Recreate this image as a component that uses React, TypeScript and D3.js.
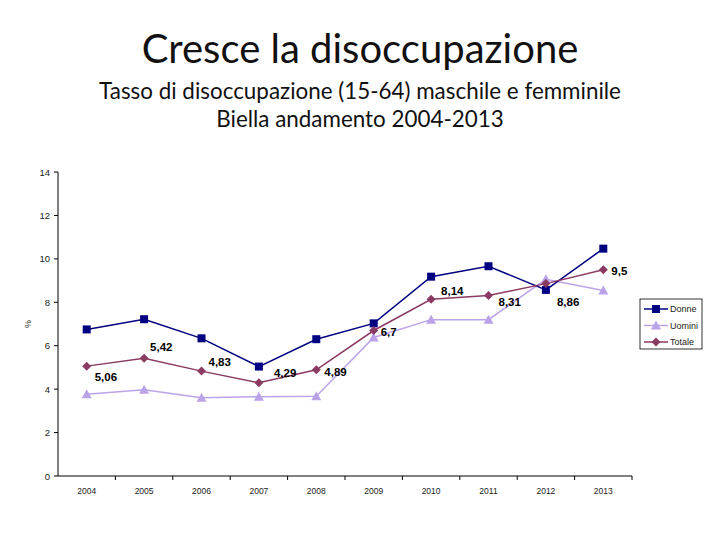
import React from "react";
import * as d3 from "d3";

const years = ["2004", "2005", "2006", "2007", "2008", "2009", "2010", "2011", "2012", "2013"];
const donne = [6.75, 7.22, 6.34, 5.04, 6.3, 7.03, 9.18, 9.66, 8.57, 10.47];
const uomini = [3.77, 3.97, 3.6, 3.65, 3.67, 6.38, 7.2, 7.2, 9.06, 8.54];
const totale = [5.06, 5.42, 4.83, 4.29, 4.89, 6.7, 8.14, 8.31, 8.86, 9.5];
const totaleLabels = ["5,06", "5,42", "4,83", "4,29", "4,89", "6,7", "8,14", "8,31", "8,86", "9,5"];
const yTicks = [0, 2, 4, 6, 8, 10, 12, 14];

// label offsets (dx, dy) relative to each Totale point
const labelOffsets: [number, number][] = [
  [8, 15], [6, -7], [7, -5], [15, -6], [8, 6], [7, 5], [10, -4], [10, 10], [11, 22], [8, 5],
];

const C_DONNE = "#000080";
const C_UOMINI = "#BBA3E8";
const C_TOTALE = "#8B3A62";

export default function App() {
  const left = 58, right = 632, top = 172, bottom = 476;
  const x = d3.scaleBand<string>().domain(years).range([left, right]);
  const y = d3.scaleLinear().domain([0, 14]).range([bottom, top]);
  const cx = (i: number) => (x(years[i]) as number) + x.bandwidth() / 2;
  const line = d3.line<number>().x((_, i) => cx(i)).y((d) => y(d));

  const font = "Liberation Sans, Arial, sans-serif";
  const titleFont = "Lato, Open Sans, sans-serif";
  const square = (px: number, py: number, c: string, k: string) => (
    <rect key={k} x={px - 4} y={py - 4} width={8} height={8} fill={c} />
  );
  const tri = (px: number, py: number, c: string, k: string) => (
    <path key={k} d={`M${px},${py - 5}L${px + 5},${py + 4}L${px - 5},${py + 4}Z`} fill={c} />
  );
  const dia = (px: number, py: number, c: string, k: string) => (
    <path key={k} d={`M${px},${py - 4.5}L${px + 4.5},${py}L${px},${py + 4.5}L${px - 4.5},${py}Z`} fill={c} />
  );

  const series = [
    { name: "Donne", data: donne, color: C_DONNE, marker: square },
    { name: "Uomini", data: uomini, color: C_UOMINI, marker: tri },
    { name: "Totale", data: totale, color: C_TOTALE, marker: dia },
  ];
  const drawOrder = [series[1], series[0], series[2]];

  return (
    <svg width={720} height={540} style={{ position: "absolute", left: 0, top: 0, background: "#fff" }}>
      <text x={360} y={63} textAnchor="middle" fontFamily={titleFont} fontSize={40} fill="#111">
        Cresce la disoccupazione
      </text>
      <text x={360} y={99} textAnchor="middle" fontFamily={titleFont} fontSize={22.4} fill="#111">
        Tasso di disoccupazione (15-64) maschile e femminile
      </text>
      <text x={360} y={126.5} textAnchor="middle" fontFamily={titleFont} fontSize={22.4} fill="#111">
        Biella andamento 2004-2013
      </text>

      {/* y axis */}
      <line x1={left} x2={left} y1={top} y2={bottom} stroke="#000" strokeWidth={1} />
      {yTicks.map((t) => (
        <g key={t}>
          <line x1={left - 4} x2={left} y1={y(t)} y2={y(t)} stroke="#000" />
          <text x={left - 8} y={y(t) + 3.5} textAnchor="end" fontFamily={font} fontSize={9.5} fill="#222">
            {t}
          </text>
        </g>
      ))}
      <text
        transform={`translate(31,${(top + bottom) / 2}) rotate(-90)`}
        textAnchor="middle"
        fontFamily={font}
        fontSize={9}
        fill="#222"
      >
        %
      </text>

      {/* x axis */}
      <line x1={left} x2={right} y1={bottom} y2={bottom} stroke="#000" />
      {years.map((yr, i) => (
        <g key={yr}>
          <line
            x1={(x(yr) as number) + x.bandwidth()}
            x2={(x(yr) as number) + x.bandwidth()}
            y1={bottom}
            y2={bottom + 4}
            stroke="#000"
          />
          <text x={cx(i)} y={bottom + 18} textAnchor="middle" fontFamily={font} fontSize={8.5} fill="#222">
            {yr}
          </text>
        </g>
      ))}

      {/* lines */}
      {drawOrder.map((s) => (
        <path key={s.name} d={line(s.data) as string} fill="none" stroke={s.color} strokeWidth={1.5} />
      ))}
      {drawOrder.map((s) => (
        <g key={s.name + "m"}>{s.data.map((v, i) => s.marker(cx(i), y(v), s.color, `${s.name}${i}`))}</g>
      ))}

      {/* data labels */}
      {totale.map((v, i) => (
        <text
          key={"l" + i}
          x={cx(i) + labelOffsets[i][0]}
          y={y(v) + labelOffsets[i][1]}
          fontFamily={font}
          fontWeight="bold"
          fontSize={11.5}
          fill="#000"
        >
          {totaleLabels[i]}
        </text>
      ))}

      {/* legend */}
      <rect x={640} y={299} width={62} height={50} fill="#fff" stroke="#000" strokeWidth={0.8} />
      {series.map((s, i) => {
        const ly = 309 + i * 16.5;
        return (
          <g key={"lg" + s.name}>
            <line x1={644} x2={668} y1={ly} y2={ly} stroke={s.color} strokeWidth={1.5} />
            {s.marker(656, ly, s.color, "lgm" + i)}
            <text x={670} y={ly + 3} fontFamily={font} fontSize={9} fill="#222">
              {s.name}
            </text>
          </g>
        );
      })}
    </svg>
  );
}
